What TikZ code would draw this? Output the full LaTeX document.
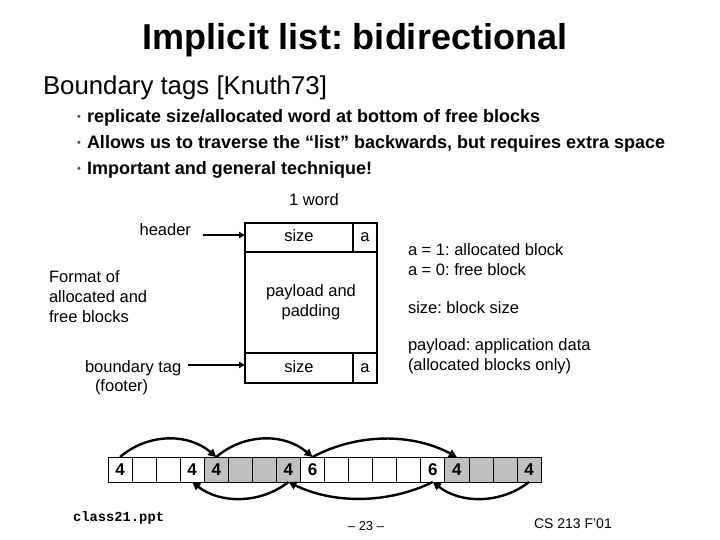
\documentclass[tikz,border=0pt]{standalone}
\usepackage{fontspec}
\setmainfont{Liberation Sans}
\newfontfamily\monofam{Liberation Mono}
\usetikzlibrary{arrows.meta}
\definecolor{cellgray}{RGB}{192,192,192}
\frenchspacing
\begin{document}
\begin{tikzpicture}[x=1pt,y=-1pt,
  every node/.style={inner sep=0pt,outer sep=0pt},
  txt/.style={font=\fontsize{16.5}{20}\selectfont,align=left},
  fbox/.style={draw,line width=2.4pt,font=\fontsize{16.5}{20}\selectfont,align=center,text height=12pt,text depth=3.5pt},
  cell/.style={draw,line width=0.8pt,minimum width=24.06pt,minimum height=25pt,font=\fontsize{17}{17}\selectfont\bfseries},
  link/.style={line width=2.4pt,-{Triangle[length=8pt,width=8pt]}},
  harrow/.style={line width=2pt,-{Triangle[length=6pt,width=6pt]}}
]
\useasboundingbox[fill=white] (0,0) rectangle (720,540);

% title and bullets
\node[font=\fontsize{36}{40}\selectfont\bfseries] (title) at (355,40) {Implicit list: bidirectional};
\node[anchor=west,font=\fontsize{25.8}{30}\selectfont] (sub) at (43,88) {Boundary tags [Knuth73]};
\foreach \y/\t [count=\k] in {118/{replicate size/allocated word at bottom of free blocks},
  144/{Allows us to traverse the “list” backwards, but requires extra space},
  170/{Important and general technique!}}{
  \node[font=\fontsize{11}{12}\selectfont,text=black!70] (dot\k) at (79,\y) {•};
  \node[anchor=west,font=\fontsize{18}{20}\selectfont\bfseries] (b\k) at (87,\y) {\t};
}

% block format
\node[txt] (word) at (314,200) {1 word};
\node[fbox,minimum width=108pt,minimum height=29pt,anchor=north west] (hsize) at (245,223) {size};
\node[fbox,minimum width=24pt,minimum height=29pt,anchor=north west] (ha) at (hsize.north east) {a};
\node[fbox,minimum width=132pt,minimum height=101pt,anchor=north west,text height=,text depth=] (pay) at (hsize.south west) {payload and\\padding};
\node[fbox,minimum width=108pt,minimum height=30pt,anchor=north west] (fsize) at (pay.south west) {size};
\node[fbox,minimum width=24pt,minimum height=30pt,anchor=north west] (fa) at (fsize.north east) {a};

\node[txt,anchor=east] (lhdr) at (191,230) {header};
\coordinate (hs) at (203,235);
\draw[harrow] (hs) -- (hs -| hsize.west);
\node[txt,anchor=west] (lfmt) at (49,297) {Format of\\allocated and\\free blocks};
\node[txt,anchor=west] (lbt) at (85,368) {boundary tag};
\node[txt,anchor=west] (lft) at (95,387) {(footer)};
\coordinate (bs) at (188,365);
\draw[harrow] (bs) -- (bs -| fsize.west);

\node[txt,anchor=west] (ra) at (408,259.5) {a = 1: allocated block\\a = 0: free block};
\node[txt,anchor=west] (rs) at (408,308) {size: block size};
\node[txt,anchor=west] (rp) at (408,356) {payload: application data\\(allocated blocks only)};

% heap array
\foreach \i/\t/\c in {0/4/white,1//white,2//white,3/4/white,4/4/cellgray,5//cellgray,6//cellgray,7/4/cellgray,
  8/6/white,9//white,10//white,11//white,12//white,13/6/white,14/4/cellgray,15//cellgray,16//cellgray,17/4/cellgray}{
  \node[cell,fill=\c] (c\i) at ({108+24.06*\i+12.03},469.5) {\t};
}
\draw[link] (c0.north) .. controls +(28,-24) and +(-28,-24) .. (c4.north);
\draw[link] (c4.north) .. controls +(28,-24) and +(-28,-24) .. (c8.north);
\draw[link] (c8.north) .. controls +(45,-24) and +(-45,-24) .. (c14.north);
\draw[link] (c17.south) .. controls +(-28,22) and +(28,22) .. (c13.south);
\draw[link] (c13.south) .. controls +(-45,22) and +(45,22) .. (c7.south);
\draw[link] (c7.south) .. controls +(-28,22) and +(28,22) .. (c3.south);

% footer
\node[anchor=west,font=\monofam\fontsize{13.8}{14}\selectfont\bfseries] (f1) at (73,518) {class21.ppt};
\node[font=\fontsize{13}{14}\selectfont] (f2) at (366,526) {– 23 –};
\node[anchor=west,font=\fontsize{14}{14}\selectfont] (f3) at (534,524) {CS 213 F'01};
\end{tikzpicture}
\end{document}
